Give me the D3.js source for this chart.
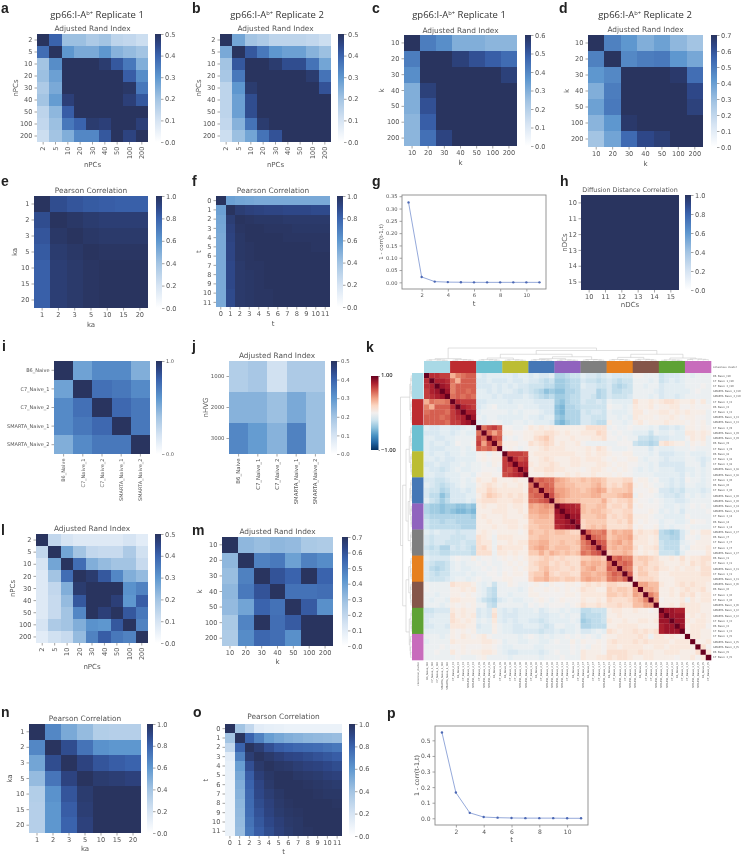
<!DOCTYPE html>
<html><head><meta charset="utf-8">
<script src="https://cdn.jsdelivr.net/npm/d3@7"></script>
<style>html,body{margin:0;padding:0;background:#fff}svg{display:block;filter:blur(.3px)}</style>
</head><body><div id="chart"></div>
<script>
// ---- categories
const nPCsCats=["2","5","10","20","30","40","50","100","200"];
const kCats=["10","20","30","40","50","100","200"];
const kaCats=["1","2","3","5","10","15","20"];
const tCats=["0","1","2","3","4","5","6","7","8","9","10","11"];
const nDCCats=["10","11","12","13","14","15"];
const sampleCats=["B6_Naive","C7_Naive_1","C7_Naive_2","SMARTA_Naive_1","SMARTA_Naive_2"];
const hvgCats=["1000","2000","3000"];
const lineT=[1,2,3,4,5,6,7,8,9,10,11];
// ---- values
const matA=[[.5,.40,.21,.21,.18,.2,.15,.14,.12],[.38,.5,.3,.26,.26,.3,.24,.22,.2],[.2,.32,.5,.5,.5,.48,.42,.36,.25],[.21,.28,.5,.5,.5,.5,.5,.41,.32],[.18,.26,.5,.5,.5,.5,.5,.49,.36],[.2,.29,.47,.5,.5,.5,.5,.47,.42],[.15,.23,.41,.5,.5,.5,.5,.5,.5],[.14,.21,.36,.4,.48,.47,.5,.5,.47],[.12,.2,.25,.33,.33,.42,.5,.46,.5]];
const matB=[[.5,.27,.2,.18,.15,.15,.15,.14,.12],[.26,.5,.42,.36,.3,.28,.28,.24,.21],[.2,.42,.5,.5,.48,.44,.44,.37,.27],[.19,.36,.5,.5,.5,.5,.5,.48,.37],[.15,.3,.48,.5,.5,.5,.5,.5,.43],[.15,.28,.44,.5,.5,.5,.5,.5,.5],[.15,.28,.44,.5,.5,.5,.5,.5,.5],[.14,.24,.37,.48,.5,.5,.5,.5,.5],[.12,.21,.27,.37,.43,.5,.5,.5,.5]];
const matC=[[.6,.42,.38,.3,.3,.28,.28],[.42,.6,.6,.56,.52,.49,.46],[.38,.6,.6,.6,.6,.6,.56],[.3,.56,.6,.6,.6,.6,.6],[.3,.52,.6,.6,.6,.6,.6],[.28,.49,.6,.6,.6,.6,.6],[.28,.45,.55,.6,.6,.6,.6]];
const matD=[[.7,.48,.42,.35,.39,.32,.28],[.48,.7,.46,.49,.5,.42,.37],[.42,.46,.7,.7,.7,.68,.53],[.35,.49,.7,.7,.7,.7,.63],[.39,.5,.7,.7,.7,.7,.65],[.33,.42,.68,.7,.7,.7,.7],[.28,.38,.54,.63,.66,.7,.7]];
const matE=[[1,.88,.85,.83,.82,.81,.81],[.88,1,.98,.96,.95,.95,.95],[.85,.98,1,.98,.97,.97,.97],[.83,.96,.98,1,.99,.99,.99],[.81,.95,.97,.99,1,1,1],[.81,.95,.97,.99,1,1,1],[.81,.95,.97,.99,1,1,1]];
const matF=[[1,.56,.54,.53,.52,.52,.52,.52,.52,.52,.52,.52],[.56,1,.95,.93,.92,.91,.91,.9,.9,.9,.89,.89],[.54,.95,1,.99,.98,.98,.98,.97,.97,.97,.97,.97],[.53,.93,.99,1,1,.99,.99,.99,.98,.98,.98,.98],[.52,.92,.98,1,1,1,1,.99,.99,.99,.99,.99],[.52,.91,.98,.99,1,1,1,1,1,1,.99,.99],[.52,.91,.98,.99,1,1,1,1,1,1,1,1],[.52,.9,.97,.99,.99,1,1,1,1,1,1,1],[.52,.9,.97,.98,.99,1,1,1,1,1,1,1],[.52,.9,.97,.98,.99,1,1,1,1,1,1,1],[.52,.89,.97,.98,.99,.99,1,1,1,1,1,1],[.52,.89,.97,.98,.99,.99,1,1,1,1,1,1]];
const matH=[[1,1,1,1,1,1],[1,1,1,1,1,1],[1,1,1,1,1,1],[1,1,1,1,1,1],[1,1,1,1,1,1],[1,1,1,1,1,1]];
const matI=[[1,.55,.65,.65,.5],[.55,1,.75,.72,.65],[.65,.75,1,.78,.72],[.65,.72,.78,1,.72],[.5,.65,.72,.72,1]];
const matJ=[[.17,.19,.11,.18,.18],[.24,.24,.21,.26,.21],[.33,.29,.24,.34,.21]];
const matL=[[.5,.14,.1,.08,.08,.08,.08,.1,.07],[.14,.5,.27,.2,.14,.13,.13,.18,.11],[.1,.27,.5,.38,.25,.22,.2,.2,.13],[.08,.2,.38,.5,.48,.42,.33,.25,.22],[.08,.14,.25,.48,.5,.5,.5,.31,.34],[.08,.13,.22,.42,.5,.5,.47,.3,.41],[.08,.13,.2,.33,.5,.47,.5,.42,.36],[.1,.18,.2,.25,.31,.3,.42,.5,.34],[.07,.11,.13,.22,.34,.41,.36,.34,.5]];
const matM=[[.7,.32,.3,.32,.31,.26,.25],[.32,.7,.48,.5,.39,.48,.45],[.3,.48,.7,.6,.56,.7,.56],[.32,.5,.6,.7,.52,.52,.53],[.31,.38,.56,.52,.7,.58,.44],[.26,.47,.7,.53,.58,.7,.7],[.25,.45,.55,.53,.44,.7,.7]];
const matN=[[1,.66,.52,.44,.34,.33,.33],[.66,1,.88,.74,.62,.6,.6],[.54,.88,1,.92,.85,.82,.8],[.44,.73,.92,1,.96,.95,.93],[.34,.62,.85,.96,1,1,1],[.33,.6,.82,.95,1,1,1],[.33,.6,.8,.93,1,1,1]];
const matO=[[1,.4,.28,.14,.12,.11,.1,.1,.1,.1,.1,.1],[.4,1,.8,.68,.57,.53,.5,.48,.46,.45,.44,.43],[.28,.8,1,.95,.87,.82,.8,.78,.77,.76,.74,.72],[.14,.68,.95,1,.97,.94,.91,.9,.88,.86,.84,.82],[.12,.57,.87,.97,1,.98,.97,.95,.93,.92,.9,.88],[.11,.53,.82,.94,.98,1,1,.98,.97,.96,.94,.93],[.1,.5,.8,.91,.97,1,1,1,.99,.98,.97,.96],[.1,.48,.78,.9,.95,.98,1,1,1,.99,.98,.98],[.1,.46,.77,.88,.93,.97,.99,1,1,1,1,.99],[.1,.45,.76,.86,.92,.96,.98,.99,1,1,1,1],[.1,.44,.74,.84,.9,.94,.97,.98,1,1,1,1],[.1,.43,.72,.82,.88,.93,.96,.98,.99,1,1,1]];
const seriesG=[.325,.022,.003,.001,.0005,0,0,0,0,0,0];
const seriesP=[.55,.165,.035,.008,.004,.002,.001,.001,.001,0,0];
const tickG=[0,.05,.1,.15,.2,.25,.3,.35];
const tickP=[0,.1,.2,.3,.4,.5];
const tickXLine=[2,4,6,8,10];
// ---- panel k
const kLabels=["B6_Naive_t10","C7_Naive_1_t10","C7_Naive_2_t10","SMARTA_Naive_1_t10","SMARTA_Naive_2_t10",
"C7_Naive_2_t3","B6_Naive_t3","C7_Naive_1_t3","SMARTA_Naive_1_t3","SMARTA_Naive_2_t3",
"C7_Naive_2_t9","SMARTA_Naive_1_t9","SMARTA_Naive_2_t9","B6_Naive_t9","C7_Naive_1_t9",
"B6_Naive_t8","C7_Naive_1_t8","C7_Naive_2_t8","SMARTA_Naive_1_t8","SMARTA_Naive_2_t8",
"C7_Naive_1_t0","B6_Naive_t0","C7_Naive_2_t0","SMARTA_Naive_1_t0","SMARTA_Naive_2_t0",
"SMARTA_Naive_2_t4","SMARTA_Naive_1_t4","C7_Naive_2_t4","B6_Naive_t4","C7_Naive_1_t4",
"SMARTA_Naive_2_t7","B6_Naive_t7","C7_Naive_2_t7","C7_Naive_1_t7","SMARTA_Naive_1_t7",
"B6_Naive_t1","C7_Naive_2_t1","SMARTA_Naive_2_t1","C7_Naive_1_t1","SMARTA_Naive_1_t1",
"SMARTA_Naive_2_t6","B6_Naive_t6","C7_Naive_1_t6","C7_Naive_2_t6","SMARTA_Naive_1_t6",
"SMARTA_Naive_1_t2","SMARTA_Naive_2_t2","C7_Naive_2_t2","B6_Naive_t2","C7_Naive_1_t2",
"C7_Naive_1_t5","SMARTA_Naive_1_t5","SMARTA_Naive_2_t5","B6_Naive_t5","C7_Naive_2_t5"];
const kClusterColors=["#a9d9e6","#bd2c30","#6cc0d1","#bcbd33","#4577b6","#9063be","#7f7f7f","#e6801f","#85564a","#5ea235","#c86cbc"];
const kCodes={a:-.05,b:-.1,c:-.15,d:-.2,e:-.25,f:-.3,g:-.35,h:-.4,i:-.45,j:-.5,"0":0,"1":.05,"2":.1,"3":.15,"4":.2,"5":.25,"6":.3,"7":.35,"8":.4,"9":.45,k:.5,l:.55,m:.6,n:.65,o:.7,p:.75,q:.8,r:.85,X:1};
const kLowerRows=[
"X","pX","pqX","oqrX","opqrX",
"7lkkl X","k7mmm pX","lmmml oqX","mmmlm opqX","mmmml ooqrX",
"bccbb ccbab X","cccbb cbabb lX","bbccb baaaa nlX","bcbbc b0aa0 o8nX","bcccb bbaba mlmkX",
"bcbbc bbabb 01a10 X","bbcbc cbbbb 01011 oX","ccbcc bbaba a0a10 opX","bccdc babba a000a onpX","bbccb bbaab 01100 nopqX",
"ccddc bbaba 21131 11211 X","bcded cbabb 12321 21121 lX","cddfe ccbcb 22432 22221 mlX","ceehf cccbb 13543 23232 lmmX","bdege cccbc 23332 22332 llmnX",
"fgghg ghhgh 12112 21221 87898 X","fgghg hiihi 11122 21121 77887 rX","effff ffffg 12111 21112 66776 qrX","deefe effff 11211 22211 56666 qqrX","deeee eefff 11121 12212 55666 pqrrX",
"bcbcc cdccc 12101 11101 65565 66544 X","cdccc dddcc 321a2 22111 55665 55555 mX","cdccd ddcdd 322a1 12122 66775 56556 kmX","dedff cdcde 342a3 22221 67875 66655 klnX","cddee dddde 333a2 21211 55757 65656 lkmnX",
"bcccc a0aa1 a00a0 10101 33454 34333 55665 X","cdeed babaa 0a0aa 01010 34553 43433 76776 lX","cefed babba a0a0a 00101 33564 43343 67866 mlX","cdedd bbbab aa00a 10110 45574 34433 77677 kmlX","cdddc baaba 0aa00 11000 46675 54554 78776 klkmX",
"0aaaa 32221 abada a10aa 010a1 00110 23232 44333 X","0aaaa 11212 abdea aaaba 10010 10101 32211 54554 8X","aabaa 11010 abdea abaaa 11000 00110 22222 55454 87X","abaab 22111 bdefc babba a010a 01000 21121 43334 67kX","aaaba 10101 aadea aaaab 0a0a0 00a01 32232 33433 668 8X",
"ddccc 21211 cbc2b cbcbb bacba ababb eeddd 12211 21101 X","ccbbb 31212 cbc3b cccbb bbccb babaa feeed 11211 11111 rX","cbbbb 32121 bab2b cbcbb ccdcb bbbab gfeed 21121 12212 rrX","ccbbc 22211 cbb1a bbccb bbcdc aabba ffeee 11222 21111 qrrX","bbbbb 10101 bbb1a bbccc ccdcc bcbba ccbab 32122 32323 qrrrX",
"aaaba 10210 120aa aaaba 0abab aa0a0 a0ab0 11222 232a2 21211 X","baaaa 21111 12210 baabb aabba 0aa1a 10010 23222 32322 22122 2X","aaa0a 00100 0110a bbaaa abbaa aaa0a 0a110 22122 22112 21222 21X","aa0aa 20101 1221a bccbb bbcba 0aa0a 21110 33332 23221 12221 113X","aaaaa a0aaa 01aaa abaaa aabaa a0aaa 21122 32332 11221 11101 1202X"
];
// nested merge tree: [height, left, right]; numbers are sample positions
const kTree=[1,
 [.15,[.06,[.03,0,1],[.04,2,[.02,3,4]]],[.07,[.03,5,6],[.05,7,[.03,8,9]]]],
 [.8,
  [.5,
   [.2,[.07,[.04,10,11],[.05,12,[.03,13,14]]],[.06,[.03,15,16],[.04,17,[.02,18,19]]]],
   [.3,[.15,[.07,[.04,20,21],[.05,22,[.03,23,24]]],[.05,[.02,25,26],[.03,27,[.02,28,29]]]],[.08,[.04,30,31],[.06,32,[.03,33,34]]]]],
  [.5,
   [.25,[.08,[.04,35,36],[.06,37,[.03,38,39]]],[.1,[.05,40,41],[.07,42,[.04,43,44]]]],
   [.2,[.05,[.02,45,46],[.03,47,[.02,48,49]]],[.13,[.08,50,51],[.1,52,[.07,53,54]]]]]]];
const superTitle=["gp66:I-A","b+"," Replicate "];

// ---- helpers
const W=741,H=855,SANS='"DejaVu Sans",sans-serif',TXT='#555';
const svg=d3.select('#chart').append('svg').attr('width',W).attr('height',H).attr('viewBox',`0 0 ${W} ${H}`);
const colorStops=[[0,'#ffffff'],[.2,'#d6e4f3'],[.4,'#a3c4e3'],[.6,'#5e97cf'],[.8,'#3a63ad'],[.9,'#2e4788'],[1,'#29345f']];
const frac=d3.scaleLinear().domain(colorStops.map(d=>d[0])).range(colorStops.map(d=>d[1])).interpolate(d3.interpolateRgb);
const defs=svg.append('defs');
const grad=defs.append('linearGradient').attr('id','blues').attr('x1',0).attr('x2',0).attr('y1',1).attr('y2',0);
grad.selectAll('stop').data(colorStops).join('stop').attr('offset',d=>d[0]).attr('stop-color',d=>d[1]);
const rdbu=d3.scaleSequential(t=>d3.interpolateRdBu(1-t)).domain([-1,1]);
const gradK=defs.append('linearGradient').attr('id','rdbu').attr('x1',0).attr('x2',0).attr('y1',1).attr('y2',0);
gradK.selectAll('stop').data(d3.range(0,1.01,.1)).join('stop').attr('offset',d=>d).attr('stop-color',d=>d3.interpolateRdBu(1-d));

function styleAxis(g,font){
  g.select('.domain').remove();
  g.selectAll('.tick line').attr('stroke','#666').attr('stroke-width',.6);
  g.selectAll('.tick text').attr('fill',TXT).attr('font-family',SANS).attr('font-size',font);
}
function label(x,y,t,o={}){
  const s=svg.append('text').attr('text-anchor',o.anchor||'middle').attr('font-family',o.family||SANS)
    .attr('font-size',o.size||7).attr('fill',o.fill||TXT).attr('font-weight',o.weight||400)
    .attr('transform',`translate(${x},${y})${o.rot?` rotate(${o.rot})`:''}`).text(t);
  return s;
}
function heatmap(p){
  const x=d3.scaleBand().domain(p.xc).range([p.x0,p.x1]);
  const y=d3.scaleBand().domain(p.yc).range([p.y0,p.y1]);
  const g=svg.append('g');
  p.m.forEach((row,i)=>g.append('g').selectAll('rect').data(row).join('rect')
    .attr('x',(d,j)=>x(p.xc[j])).attr('y',y(p.yc[i])).attr('width',x.bandwidth()).attr('height',y.bandwidth())
    .attr('fill',d=>frac(d/p.vmax)).attr('shape-rendering','crispEdges'));
  const f=p.font||6.6;
  const ax=svg.append('g').attr('transform',`translate(0,${p.y1})`).call(d3.axisBottom(x).tickSize(2.5).tickPadding(2));
  styleAxis(ax,f);
  if(p.rotX) ax.selectAll('.tick text').attr('text-anchor','end').attr('x',-4.5).attr('y',0).attr('dy','.34em')
    .attr('transform','rotate(-90)');
  const ay=svg.append('g').attr('transform',`translate(${p.x0},0)`).call(d3.axisLeft(y).tickSize(2.5).tickPadding(p.pad||2));
  styleAxis(ay,f);
  // colorbar
  const cy=d3.scaleLinear().domain([0,p.vmax]).range([p.y1,p.y0]);
  svg.append('rect').attr('x',p.cx).attr('y',p.y0).attr('width',6).attr('height',p.y1-p.y0).attr('fill','url(#blues)');
  const ac=svg.append('g').attr('transform',`translate(${p.cx+6},0)`)
    .call(d3.axisRight(cy).tickValues(p.cticks).tickFormat(d3.format('.1f')).tickSize(2.5).tickPadding(1.5));
  styleAxis(ac,p.cfont||f);
  const cxm=(p.x0+p.x1)/2;
  if(p.title) label(cxm,p.titleY,p.title,{size:p.titleSize||7.4});
  if(p.xlab) label(cxm,p.xlabY,p.xlab,{size:7});
  if(p.ylab) label(p.ylabX,(p.y0+p.y1)/2,p.ylab,{size:7,rot:-90});
}
function lineChart(p){
  const x=d3.scaleLinear().domain([.5,11.5]).range([p.x0,p.x1]);
  const y=d3.scaleLinear().domain(p.yd).range([p.y1,p.y0]);
  const ax=svg.append('g').attr('transform',`translate(0,${p.y1})`).call(d3.axisBottom(x).tickValues(tickXLine).tickSize(2.5).tickPadding(2).tickFormat(d3.format('d')));
  styleAxis(ax,p.font);
  const ay=svg.append('g').attr('transform',`translate(${p.x0},0)`).call(d3.axisLeft(y).tickValues(p.yt).tickSize(2.5).tickPadding(2).tickFormat(d3.format(p.fmt)));
  styleAxis(ay,p.font);
  svg.append('rect').attr('x',p.x0).attr('y',p.y0).attr('width',p.x1-p.x0).attr('height',p.y1-p.y0).attr('fill','none').attr('stroke','#8a8a8a').attr('stroke-width',.9);
  const pts=lineT.map((t,i)=>[t,p.s[i]]);
  svg.append('path').attr('d',d3.line().x(d=>x(d[0])).y(d=>y(d[1]))(pts)).attr('fill','none').attr('stroke','#7a93d0').attr('stroke-width',.8);
  svg.append('g').selectAll('circle').data(pts).join('circle').attr('cx',d=>x(d[0])).attr('cy',d=>y(d[1])).attr('r',1.2).attr('fill','#4c68b4');
  label((p.x0+p.x1)/2,p.xlabY,'t',{size:7});
  label(p.ylabX,(p.y0+p.y1)/2,'1 - corr(t-1,t)',{size:p.font+.3,rot:-90});
}
const tk=v=>d3.range(0,Math.round(v*10)+1).map(d=>d/10);
const tk2=[0,.2,.4,.6,.8,1];
const ARI='Adjusted Rand Index',PC='Pearson Correlation';
[
 {m:matA,xc:nPCsCats,yc:nPCsCats,x0:37,x1:148,y0:34,y1:142,cx:155,vmax:.5,cticks:tk(.5),title:ARI,titleY:31,xlab:'nPCs',xlabY:167,ylab:'nPCs',ylabX:18,rotX:1},
 {m:matB,xc:nPCsCats,yc:nPCsCats,x0:220,x1:331,y0:34,y1:142,cx:338,vmax:.5,cticks:tk(.5),title:ARI,titleY:31,xlab:'nPCs',xlabY:167,ylab:'nPCs',ylabX:201,rotX:1},
 {m:matC,xc:kCats,yc:kCats,x0:404,x1:517,y0:35,y1:146,cx:525,vmax:.6,cticks:tk(.6),title:ARI,titleY:33,xlab:'k',xlabY:165,ylab:'k',ylabX:384},
 {m:matD,xc:kCats,yc:kCats,x0:588,x1:703,y0:35,y1:147,cx:711,vmax:.7,cticks:tk(.7),title:ARI,titleY:32,xlab:'k',xlabY:166,ylab:'k',ylabX:569},
 {m:matE,xc:kaCats,yc:kaCats,x0:34,x1:148,y0:196,y1:308,cx:156,vmax:1,cticks:tk2,title:PC,titleY:193,xlab:'ka',xlabY:327,ylab:'ka',ylabX:17},
 {m:matF,xc:tCats,yc:tCats,x0:216,x1:330,y0:196,y1:307,cx:337,vmax:1,cticks:tk2,title:PC,titleY:193,xlab:'t',xlabY:326,ylab:'t',ylabX:201},
 {m:matH,xc:nDCCats,yc:nDCCats,x0:581,x1:679,y0:195,y1:290,cx:685,vmax:1,cticks:tk2,title:'Diffusion Distance Correlation',titleY:192,titleSize:6.4,xlab:'nDCs',xlabY:307,ylab:'nDCs',ylabX:566.5,pad:1.5},
 {m:matI,xc:sampleCats,yc:sampleCats,x0:54,x1:150,y0:361,y1:454,cx:156,vmax:1,cticks:[0,1],rotX:1,font:5,cfont:5},
 {m:matJ,xc:sampleCats,yc:hvgCats,x0:229,x1:325,y0:361,y1:454,cx:331,vmax:.5,cticks:tk(.5),title:ARI,titleY:358,rotX:1,font:5.4,ylab:'nHVG',ylabX:208},
 {m:matL,xc:nPCsCats,yc:nPCsCats,x0:36,x1:148,y0:534,y1:643,cx:155,vmax:.5,cticks:tk(.5),title:ARI,titleY:531,xlab:'nPCs',xlabY:669,ylab:'nPCs',ylabX:15,rotX:1},
 {m:matM,xc:kCats,yc:kCats,x0:222,x1:333,y0:537,y1:646,cx:342,vmax:.7,cticks:tk(.7),title:ARI,titleY:534,xlab:'k',xlabY:664,ylab:'k',ylabX:202},
 {m:matN,xc:kaCats,yc:kaCats,x0:29,x1:141,y0:724,y1:833,cx:147,vmax:1,cticks:tk2,title:PC,titleY:721,xlab:'ka',xlabY:851,ylab:'ka',ylabX:12},
 {m:matO,xc:tCats,yc:tCats,x0:225,x1:342,y0:724,y1:836,cx:349,vmax:1,cticks:tk2,title:PC,titleY:719,xlab:'t',xlabY:854,ylab:'t',ylabX:208}
].forEach(heatmap);

lineChart({s:seriesG,x0:402,x1:546,y0:195,y1:289,yd:[-.027,.355],yt:tickG,fmt:'.2f',font:5.2,xlabY:306,ylabX:383});
lineChart({s:seriesP,x0:435,x1:588,y0:726,y1:825,yd:[-.043,.592],yt:tickP,fmt:'.1f',font:6,xlabY:842,ylabX:419});

// ---- clustermap k
(function(){
  const n=kLabels.length;
  const rows=kLowerRows.map(r=>r.replace(/ /g,'').split('').map(c=>kCodes[c]));
  const val=(i,j)=>{const a=Math.max(i,j),b=Math.min(i,j),v=(rows[a]||[])[b];return v===undefined?0:v;};
  const idx=d3.range(n);
  const x=d3.scaleBand().domain(idx).range([424,711]);
  const y=d3.scaleBand().domain(idx).range([373,660]);
  const gm=svg.append('g');
  idx.forEach(i=>gm.append('g').selectAll('rect').data(idx).join('rect')
    .attr('x',j=>x(j)).attr('y',y(i)).attr('width',x.bandwidth()+.3).attr('height',y.bandwidth()+.3)
    .attr('fill',j=>rdbu(val(i,j))));
  // cluster colour strips
  const cl=d3.scaleBand().domain(kClusterColors).range([424,711]);
  const cr=d3.scaleBand().domain(kClusterColors).range([373,660]);
  svg.append('g').selectAll('rect').data(kClusterColors).join('rect').attr('x',d=>cl(d)).attr('y',361).attr('width',cl.bandwidth()+.3).attr('height',12).attr('fill',d=>d);
  svg.append('g').selectAll('rect').data(kClusterColors).join('rect').attr('x',412).attr('y',d=>cr(d)).attr('width',11.5).attr('height',cr.bandwidth()+.3).attr('fill',d=>d);
  // labels
  const fs=2.6;
  const rl=svg.append('g').attr('font-family',SANS).attr('font-size',fs).attr('fill','#555');
  rl.selectAll('text').data(kLabels).join('text').attr('x',713).attr('y',(d,i)=>y(i)+y.bandwidth()/2+.9).text(d=>d);
  rl.append('text').attr('x',713).attr('y',368).text('consensus_cluster');
  const cg=svg.append('g').attr('font-family',SANS).attr('font-size',fs).attr('fill','#555').attr('text-anchor','end');
  cg.selectAll('text').data(kLabels).join('text').attr('transform',(d,i)=>`translate(${x(i)+x.bandwidth()/2+.9},662) rotate(-90)`).text(d=>d);
  cg.append('text').attr('transform','translate(418.5,662) rotate(-90)').text('consensus_cluster');
  // dendrograms
  const root=d3.hierarchy(kTree,d=>Array.isArray(d)?d.slice(1):null);
  root.eachAfter(nd=>{
    if(!nd.children){nd.pos=nd.data;nd.h=0;}
    else{nd.pos=d3.mean(nd.children,c=>c.pos);nd.h=nd.data[0];}
  });
  const hTop=d3.scaleLinear().domain([0,1]).range([360.5,348]);
  const hLeft=d3.scaleLinear().domain([0,1]).range([411.5,400.5]);
  const cx=i=>x(0)+x.step()*(i+.5), cy=i=>y(0)+y.step()*(i+.5);
  const dg=svg.append('g').attr('fill','none').attr('stroke','#c6c6c6').attr('stroke-width',.55);
  const links=root.descendants().filter(d=>d.children);
  dg.selectAll('path.t').data(links).join('path').attr('class','t')
    .attr('d',d=>{const [a,b]=d.children;return `M${cx(a.pos)},${hTop(a.h)}V${hTop(d.h)}H${cx(b.pos)}V${hTop(b.h)}`;});
  dg.selectAll('path.l').data(links).join('path').attr('class','l')
    .attr('d',d=>{const [a,b]=d.children;return `M${hLeft(a.h)},${cy(a.pos)}H${hLeft(d.h)}V${cy(b.pos)}H${hLeft(b.h)}`;});
  // colour bar
  const cb=d3.scaleLinear().domain([-1,1]).range([450,376]);
  svg.append('rect').attr('x',371).attr('y',376).attr('width',7.5).attr('height',74).attr('fill','url(#rdbu)');
  const ac=svg.append('g').attr('transform','translate(378.5,0)').call(d3.axisRight(cb).tickValues([-1,1]).tickSize(1.5).tickPadding(1).tickFormat(d3.format('.2f')));
  ac.select('.domain').remove();
  ac.selectAll('.tick line').attr('stroke','#444').attr('stroke-width',.5);
  ac.selectAll('.tick text').attr('fill','#333').attr('font-family','"Open Sans",sans-serif').attr('font-size',5.8).attr('font-weight',600);
  ac.selectAll('.tick').filter(d=>d===1).select('text').attr('y',-1.5);
})();

// ---- titles and panel letters
[[97,"1"],[277,"2"],[459,"1"],[645,"2"]].forEach(([cx,n])=>{
  const t=svg.append('text').attr('x',cx).attr('y',18).attr('text-anchor','middle').attr('font-family','"Open Sans",sans-serif').attr('font-size',9.5).attr('fill','#333');
  t.append('tspan').text(superTitle[0]);
  t.append('tspan').attr('dy',-3).attr('font-size',5.8).text(superTitle[1]);
  t.append('tspan').attr('dy',3).text(superTitle[2]+n);
});
[['a',1,13],['b',192,13],['c',372,13],['d',559,13],['e',1,186],['f',192,186],['g',372,186],['h',560,186],
 ['i',2,351],['j',192,351],['k',366,352],['l',1,535],['m',192,535],['n',1,717],['o',193,717],['p',387,718]]
 .forEach(([t,x,y])=>label(x,y,t,{anchor:'start',family:'"Liberation Sans",sans-serif',size:14,weight:700,fill:'#222'}));
</script></body></html>
